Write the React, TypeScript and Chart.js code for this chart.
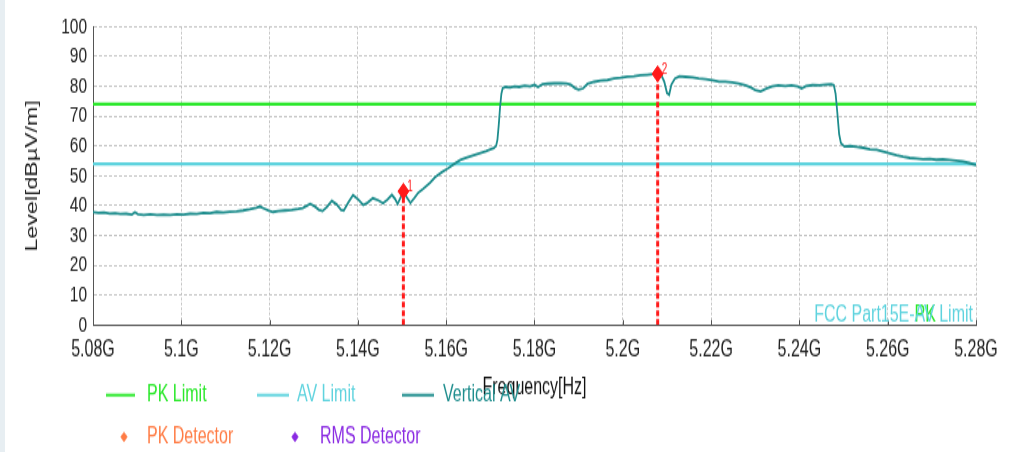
import React, { useEffect, useRef } from 'react';
import { Chart, registerables } from 'chart.js';

Chart.register(...registerables);

// ---------- data ----------
const FREQ_GHZ = [
  5.080, 5.0812, 5.0825, 5.0838, 5.085, 5.0862, 5.0875, 5.0888, 5.0895, 5.0902,
  5.0915, 5.093, 5.0945, 5.096, 5.0975, 5.099, 5.1005, 5.102, 5.1035, 5.105,
  5.1065, 5.108, 5.1095, 5.111, 5.1125, 5.114, 5.1155, 5.117, 5.1178, 5.1188,
  5.1198, 5.1208, 5.122, 5.1235, 5.125, 5.1265, 5.1275, 5.1285, 5.1292, 5.1302,
  5.1312, 5.132, 5.133, 5.1341, 5.1352, 5.1362, 5.1368, 5.1378, 5.1389, 5.14,
  5.1412, 5.1422, 5.1434, 5.1446, 5.1457, 5.1467, 5.1477, 5.1484, 5.149, 5.1496,
  5.1503, 5.151, 5.1519, 5.1528, 5.1537, 5.1548, 5.1563, 5.1575, 5.159, 5.1605,
  5.1618, 5.1632, 5.1645, 5.166, 5.1675, 5.169, 5.17, 5.1708, 5.1713, 5.1716,
  5.1719, 5.1722, 5.1725, 5.1728, 5.1735, 5.1745, 5.1755, 5.1765, 5.1778, 5.179,
  5.18, 5.1808, 5.1818, 5.183, 5.1845, 5.186, 5.1872, 5.1882, 5.1892, 5.19,
  5.191, 5.192, 5.1935, 5.195, 5.1965, 5.198, 5.1995, 5.201, 5.2025, 5.204,
  5.2055, 5.2068, 5.2079, 5.2088, 5.2094, 5.21, 5.2105, 5.211, 5.2118, 5.2128,
  5.2142, 5.2158, 5.2172, 5.2188, 5.2203, 5.2218, 5.2232, 5.2248, 5.2262, 5.2278,
  5.229, 5.23, 5.2312, 5.2325, 5.2338, 5.2352, 5.2368, 5.2382, 5.2396, 5.2405,
  5.2415, 5.243, 5.2445, 5.246, 5.2472, 5.2478, 5.2482, 5.2486, 5.249, 5.2494,
  5.2502, 5.2515, 5.253, 5.2545, 5.256, 5.2575, 5.259, 5.2605, 5.262, 5.2635,
  5.265, 5.2665, 5.268, 5.2695, 5.271, 5.2725, 5.274, 5.2755, 5.277, 5.2785, 5.28,
];

const VERTICAL_AV = [
  37.8, 37.6, 37.7, 37.4, 37.5, 37.2, 37.3, 37.0, 37.8, 37.1,
  36.9, 37.1, 36.9, 37.0, 36.9, 37.1, 37.0, 37.3, 37.2, 37.6,
  37.5, 37.9, 37.7, 38.0, 38.1, 38.4, 38.8, 39.3, 39.7, 39.0,
  38.3, 37.9, 38.2, 38.4, 38.6, 38.9, 39.2, 40.0, 40.6, 39.8,
  38.6, 38.2, 39.6, 41.6, 40.4, 38.6, 38.4, 41.0, 43.5, 42.2,
  40.2, 41.0, 42.5, 41.8, 40.8, 42.0, 43.6, 42.3, 40.6, 42.5,
  44.6, 43.0, 40.9, 42.6, 44.4, 45.7, 47.6, 49.6, 51.2, 52.6,
  54.0, 55.3, 56.0, 56.8, 57.5, 58.2, 58.8, 59.3, 60.0, 62.0,
  67.0, 73.0, 77.5, 79.4, 79.8, 79.6, 80.0, 79.8, 80.2, 80.0,
  80.5, 79.8, 80.7, 80.9, 81.0, 81.1, 80.9, 80.6, 79.4, 78.9,
  79.3, 80.8, 81.5, 81.9, 82.1, 82.6, 82.9, 83.3, 83.4, 83.7,
  83.9, 84.1, 84.2, 83.6, 81.5, 77.8, 77.2, 80.5, 82.6, 83.4,
  83.2, 83.0, 82.6, 82.4, 82.0, 81.6, 81.6, 81.3, 80.9, 80.3,
  79.6, 78.8, 78.3, 79.2, 80.0, 80.3, 80.1, 80.3, 80.0, 79.3,
  80.1, 80.4, 80.3, 80.6, 80.7, 80.4, 77.5, 71.0, 64.0, 61.0,
  59.8, 60.0, 59.7, 59.4, 58.9, 58.7, 58.1, 57.5, 56.9, 56.4,
  56.0, 55.8, 55.6, 55.7, 55.4, 55.5, 55.3, 55.1, 54.8, 54.3, 53.6,
];

const PK_LIMIT = 74;
const AV_LIMIT = 54;

const MARKER_FREQ = [5.1503, 5.2079];
const MARKER_LEVEL = [44.8, 84.2];
const MARKER_LABELS = ['1', '2'];

const X_MIN = 5.08;
const X_MAX = 5.28;
const X_STEP = 0.02;
const Y_MIN = 0;
const Y_MAX = 100;
const Y_STEP = 10;

const X_TITLE = 'Frequency[Hz]';
const Y_TITLE = 'Level[dBµV/m]';
const LEGEND_ROW1 = ['PK Limit', 'AV Limit', 'Vertical AV'];
const LEGEND_ROW2 = ['PK Detector', 'RMS Detector'];
const CAPTION_PREFIX = 'FCC Part15E-';
const CAPTION_KINDS = ['PK', 'AV'];
const CAPTION_SUFFIX = ' Limit';

// ---------- styling ----------
const W = 1017;
const H = 312;
const SCALE_Y = 452 / H;
const FONT = '"Liberation Sans", Arial, sans-serif';
const C_PK = '#2be82b';
const C_AV = '#5fd3de';
const C_TRACE = '#1e8d8d';
const C_MARK = '#ff1a1a';
const C_PKDET = '#ff7c45';
const C_RMS = '#8a2be2';

const overlayPlugin = {
  id: 'overlay',
  afterDraw(chart: any) {
    const ctx = chart.ctx;
    const xs = chart.scales.x;
    const ys = chart.scales.y;
    const area = chart.chartArea;
    ctx.save();

    // inward tick marks on the frequency axis
    ctx.strokeStyle = '#555';
    ctx.lineWidth = 1;
    xs.ticks.forEach((t: any) => {
      const px = Math.round(xs.getPixelForValue(t.value)) + 0.5;
      ctx.beginPath();
      ctx.moveTo(px, area.bottom);
      ctx.lineTo(px, area.bottom - 3.5);
      ctx.stroke();
    });

    // limit captions (PK and AV captions overlap, AV on top)
    ctx.font = `16px ${FONT}`;
    ctx.textAlign = 'left';
    ctx.textBaseline = 'alphabetic';
    const full = CAPTION_PREFIX + CAPTION_KINDS[1] + CAPTION_SUFFIX;
    const capX = area.right - 3 - ctx.measureText(full).width;
    const capY = area.bottom - 2.5;
    const preW = ctx.measureText(CAPTION_PREFIX).width;
    ctx.fillStyle = C_PK;
    ctx.fillText(CAPTION_KINDS[0], capX + preW, capY);
    ctx.fillStyle = C_AV;
    ctx.fillText(full, capX, capY);

    // marker numbers
    ctx.font = `10px ${FONT}`;
    ctx.textAlign = 'left';
    ctx.textBaseline = 'middle';
    ctx.fillStyle = C_MARK;
    MARKER_FREQ.forEach((f, i) => {
      const px = xs.getPixelForValue(f);
      const py = ys.getPixelForValue(MARKER_LEVEL[i]);
      ctx.fillText(MARKER_LABELS[i], px + 4, py - 2.5);
    });

    // legend
    ctx.font = `16px ${FONT}`;
    ctx.textAlign = 'left';
    ctx.textBaseline = 'middle';
    const row1Y = 272.7;
    const row1 = [
      { x0: 106, x1: 135, tx: 147, c: C_PK },
      { x0: 257, x1: 289, tx: 297, c: C_AV },
      { x0: 402, x1: 434, tx: 443, c: C_TRACE },
    ];
    row1.forEach((it, i) => {
      ctx.strokeStyle = it.c;
      ctx.lineWidth = 2;
      ctx.beginPath();
      ctx.moveTo(it.x0, row1Y);
      ctx.lineTo(it.x1, row1Y);
      ctx.stroke();
      ctx.fillStyle = it.c;
      ctx.fillText(LEGEND_ROW1[i], it.tx, row1Y);
    });
    const row2Y = 301.6;
    const row2 = [
      { cx: 124, tx: 147, c: C_PKDET },
      { cx: 295, tx: 320, c: C_RMS },
    ];
    row2.forEach((it, i) => {
      const r = 3.6;
      ctx.fillStyle = it.c;
      ctx.beginPath();
      ctx.moveTo(it.cx - r, row2Y);
      ctx.lineTo(it.cx, row2Y - r);
      ctx.lineTo(it.cx + r, row2Y);
      ctx.lineTo(it.cx, row2Y + r);
      ctx.closePath();
      ctx.fill();
      ctx.fillText(LEGEND_ROW2[i], it.tx, row2Y);
    });

    ctx.restore();
  },
};

export default function App() {
  const canvasRef = useRef<HTMLCanvasElement | null>(null);

  useEffect(() => {
    const canvas = canvasRef.current;
    if (!canvas) return;

    const trace = FREQ_GHZ.map((f, i) => ({ x: f, y: VERTICAL_AV[i] }));
    const markerPoints = MARKER_FREQ.map((f, i) => ({ x: f, y: MARKER_LEVEL[i] }));
    const markerLines = MARKER_FREQ.map((f, i) => ({
      type: 'line' as const,
      data: [{ x: f, y: Y_MIN }, { x: f, y: MARKER_LEVEL[i] }],
      borderColor: C_MARK,
      borderWidth: 3,
      borderDash: [4, 2],
      pointRadius: 0,
      fill: false,
      order: 1,
    }));

    const chart = new Chart(canvas, {
      type: 'line',
      data: {
        datasets: [
          {
            data: markerPoints,
            showLine: false,
            pointStyle: 'rectRot',
            pointRadius: 5.5,
            pointBackgroundColor: C_MARK,
            pointBorderColor: C_MARK,
            pointBorderWidth: 1,
            order: 0,
          } as any,
          ...markerLines,
          {
            data: trace,
            borderColor: C_TRACE,
            borderWidth: 1.8,
            pointRadius: 0,
            tension: 0,
            fill: false,
            order: 2,
          },
          {
            data: [{ x: X_MIN, y: PK_LIMIT }, { x: X_MAX, y: PK_LIMIT }],
            borderColor: C_PK,
            borderWidth: 2.2,
            pointRadius: 0,
            fill: false,
            order: 3,
          },
          {
            data: [{ x: X_MIN, y: AV_LIMIT }, { x: X_MAX, y: AV_LIMIT }],
            borderColor: C_AV,
            borderWidth: 2.2,
            pointRadius: 0,
            fill: false,
            order: 4,
          },
        ],
      },
      options: {
        responsive: false,
        animation: false,
        events: [],
        devicePixelRatio: 1,
        layout: { padding: { top: 18.4, right: 41, left: 0, bottom: 0 } },
        plugins: {
          legend: { display: false },
          tooltip: { enabled: false },
          title: { display: false },
        },
        scales: {
          x: {
            type: 'linear',
            min: X_MIN,
            max: X_MAX,
            afterFit: (s: any) => {
              s.height = 87.7;
            },
            ticks: {
              stepSize: X_STEP,
              autoSkip: false,
              maxRotation: 0,
              padding: 7.3,
              color: '#222',
              font: { family: FONT, size: 16 },
              callback: (v: any) => `${+Number(v).toFixed(2)}G`,
            },
            grid: {
              color: '#c4c4c4',
              lineWidth: 1,
              drawTicks: false,
            },
            border: { display: true, color: '#555', width: 1, dash: [2, 1.4] },
            title: {
              display: true,
              text: X_TITLE,
              color: '#111',
              font: { family: FONT, size: 16, weight: 'normal' },
              padding: { top: 0, bottom: 34.6 },
            },
          },
          y: {
            type: 'linear',
            min: Y_MIN,
            max: Y_MAX,
            afterFit: (s: any) => {
              s.width = 93;
            },
            ticks: {
              stepSize: Y_STEP,
              autoSkip: false,
              padding: 6,
              color: '#222',
              font: { family: FONT, size: 15.5 },
            },
            grid: {
              color: '#c4c4c4',
              lineWidth: 1,
              drawTicks: false,
            },
            border: { display: true, color: '#555', width: 1, dash: [3, 2] },
            title: {
              display: true,
              text: Y_TITLE,
              color: '#222',
              font: { family: FONT, size: 16, weight: 'normal' },
              padding: { top: 23.4, bottom: 0 },
            },
          },
        },
      },
      plugins: [overlayPlugin],
    } as any);

    return () => {
      chart.destroy();
    };
  }, []);

  return (
    <div style={{ position: 'absolute', left: 0, top: 0, width: W, height: 452, background: '#fff', overflow: 'hidden' }}>
      <div style={{ position: 'absolute', left: 0, top: 0, width: 5, height: 452, background: '#e7eef2' }} />
      <div
        style={{
          position: 'absolute',
          left: 0,
          top: 0,
          width: W,
          height: H,
          transform: `scaleY(${SCALE_Y})`,
          transformOrigin: '0 0',
        }}
      >
        <canvas ref={canvasRef} width={W} height={H} style={{ display: 'block' }} />
      </div>
    </div>
  );
}
